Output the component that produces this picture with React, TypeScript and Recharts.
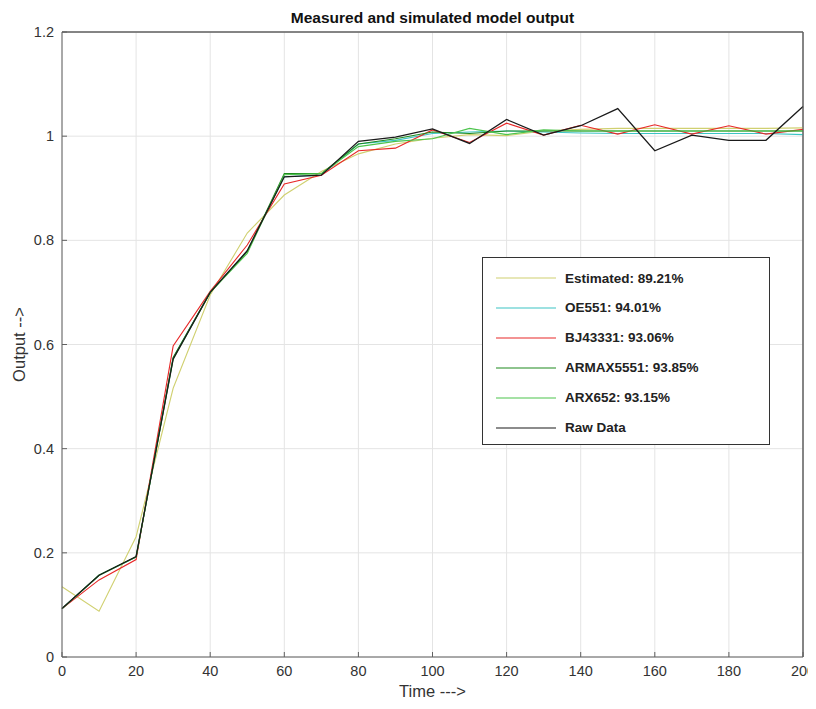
import React from 'react';
import { LineChart, Line, XAxis, YAxis, CartesianGrid, Legend, Label, ReferenceLine } from 'recharts';

const time = [0, 10, 20, 30, 40, 50, 60, 70, 80, 90, 100, 110, 120, 130, 140, 150, 160, 170, 180, 190, 200];
const estimated = [0.135, 0.088, 0.231, 0.516, 0.695, 0.814, 0.887, 0.932, 0.966, 0.985, 0.996, 1.003, 1.001, 1.010, 1.013, 1.015, 1.015, 1.015, 1.015, 1.015, 1.016];
const oe551 = [0.093, 0.157, 0.192, 0.574, 0.700, 0.780, 0.922, 0.925, 0.985, 0.992, 1.005, 1.008, 1.010, 1.008, 1.006, 1.005, 1.005, 1.005, 1.005, 1.005, 1.003];
const bj43331 = [0.093, 0.148, 0.187, 0.597, 0.702, 0.791, 0.908, 0.925, 0.972, 0.977, 1.012, 0.988, 1.025, 1.002, 1.021, 1.004, 1.022, 1.004, 1.020, 1.004, 1.013];
const armax5551 = [0.093, 0.157, 0.192, 0.575, 0.700, 0.778, 0.928, 0.928, 0.985, 0.995, 1.008, 1.005, 1.010, 1.010, 1.010, 1.010, 1.010, 1.010, 1.010, 1.010, 1.010];
const arx652 = [0.093, 0.157, 0.192, 0.572, 0.700, 0.775, 0.926, 0.928, 0.980, 0.990, 0.995, 1.015, 1.003, 1.012, 1.010, 1.010, 1.010, 1.010, 1.010, 1.010, 1.010];
const rawData = [0.093, 0.157, 0.193, 0.572, 0.700, 0.780, 0.922, 0.925, 0.990, 0.998, 1.014, 0.986, 1.032, 1.002, 1.020, 1.053, 0.972, 1.002, 0.992, 0.992, 1.057];

const xTicks = [0, 20, 40, 60, 80, 100, 120, 140, 160, 180, 200];
const yTicks = [0, 0.2, 0.4, 0.6, 0.8, 1, 1.2];

const seriesNames = ['Estimated: 89.21%', 'OE551: 94.01%', 'BJ43331: 93.06%', 'ARMAX5551: 93.85%', 'ARX652: 93.15%', 'Raw Data'];
const seriesKeys = ['est', 'oe', 'bj', 'armax', 'arx', 'raw'];
const seriesColors = ['#d0d070', '#3cc4c4', '#e82828', '#1f8a1f', '#4cc44c', '#1a1a1a'];

const data = time.map((t, i) => ({
  t,
  est: estimated[i],
  oe: oe551[i],
  bj: bj43331[i],
  armax: armax5551[i],
  arx: arx652[i],
  raw: rawData[i],
}));

const FONT = '"Liberation Sans", Arial, Helvetica, sans-serif';
const AXIS = '#606060';

const renderLegend = () => (
  <div style={{ width: 288, height: 188, border: '1px solid #333', background: '#fff', boxSizing: 'border-box', fontFamily: FONT, position: 'relative' }}>
    {seriesNames.map((n, i) => (
      <div key={n} style={{ position: 'absolute', left: 12, top: 11 + i * 29.9, height: 18, display: 'flex', alignItems: 'center' }}>
        <svg width={62} height={4} style={{ display: 'block' }}>
          <line x1={1} y1={2} x2={61} y2={2} stroke={seriesColors[i]} strokeWidth={1.2} />
        </svg>
        <span style={{ marginLeft: 8, fontSize: 13.5, fontWeight: 'bold', color: '#222' }}>{n}</span>
      </div>
    ))}
  </div>
);

export default function App() {
  return (
    <>
      <style>{'html, body { overflow: hidden; } svg.recharts-surface { display: block; overflow: visible; }'}</style>
      <LineChart width={808} height={693} data={data} margin={{ top: 23, right: 12, left: 14, bottom: 14 }}>
        <CartesianGrid stroke="#e4e4e4" strokeWidth={1} />
        <XAxis
          dataKey="t"
          type="number"
          domain={[0, 200]}
          ticks={xTicks}
          interval={0}
          height={30}
          tickSize={-5}
          tickMargin={14}
          stroke={AXIS}
          tick={{ fill: '#333', fontSize: 14.5, fontFamily: FONT }}
        >
          <Label value="Time --->" position="bottom" offset={-2} style={{ fill: '#333', fontSize: 16.5, fontFamily: FONT }} />
        </XAxis>
        <XAxis
          xAxisId="top"
          orientation="top"
          dataKey="t"
          type="number"
          domain={[0, 200]}
          ticks={xTicks}
          height={1}
          tickSize={-5}
          tick={false}
          stroke={AXIS}
        />
        <YAxis
          type="number"
          domain={[0, 1.2]}
          ticks={yTicks}
          interval={0}
          width={40}
          tickSize={-5}
          tickMargin={13}
          stroke={AXIS}
          tick={{ fill: '#333', fontSize: 14.5, fontFamily: FONT }}
        >
          <Label value="Output -->" angle={-90} position="center" dx={-23} style={{ fill: '#333', fontSize: 16.5, fontFamily: FONT, textAnchor: 'middle' }} />
        </YAxis>
        <YAxis
          yAxisId="right"
          orientation="right"
          type="number"
          domain={[0, 1.2]}
          ticks={yTicks}
          width={1}
          tickSize={-5}
          tick={false}
          stroke={AXIS}
        />
        <ReferenceLine y={1.2} stroke={AXIS} strokeWidth={1} ifOverflow="visible">
          <Label value="Measured and simulated model output" position="top" offset={9} style={{ fill: '#111', fontSize: 15.5, fontWeight: 'bold', fontFamily: FONT }} />
        </ReferenceLine>
        <ReferenceLine x={200} stroke={AXIS} strokeWidth={1} ifOverflow="visible" />
        {seriesKeys.map((k, i) => (
          <Line
            key={k}
            type="linear"
            dataKey={k}
            name={seriesNames[i]}
            stroke={seriesColors[i]}
            strokeWidth={k === 'raw' ? 1.3 : 1.1}
            dot={false}
            activeDot={false}
            isAnimationActive={false}
          />
        ))}
        <Legend
          layout="vertical"
          align="center"
          verticalAlign="middle"
          content={renderLegend}
          wrapperStyle={{ position: 'absolute', left: 474, top: 249, width: 288, height: 188 }}
        />
      </LineChart>
    </>
  );
}
